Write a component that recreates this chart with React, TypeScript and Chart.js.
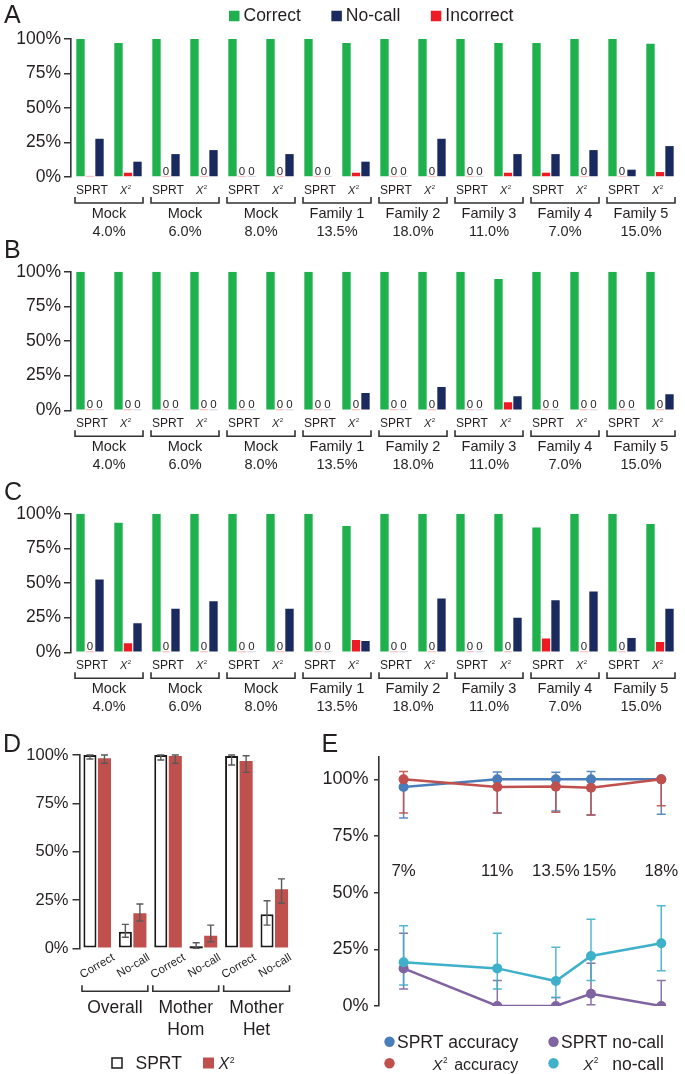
import React, { useEffect, useRef } from 'react';
import { Chart, registerables } from 'chart.js';

Chart.register(...registerables);

const FONT = '"Liberation Sans", Arial, Helvetica, sans-serif';
const TEXT = '#231f20';
const AXIS = '#333333';
Chart.defaults.font.family = FONT;
Chart.defaults.color = TEXT;

// ---------- Panels A–C data ----------
const groupNames = ['Mock', 'Mock', 'Mock', 'Family 1', 'Family 2', 'Family 3', 'Family 4', 'Family 5'];
const groupFractions = ['4.0%', '6.0%', '8.0%', '13.5%', '18.0%', '11.0%', '7.0%', '15.0%'];
const methodLabels = ['SPRT', 'X²'];
const barSeriesNames = ['Correct', 'Incorrect', 'No-call'];
const legendOrder = ['Correct', 'No-call', 'Incorrect'];

const aCorrect = [100, 97.1, 100, 100, 100, 100, 100, 97.1, 100, 100, 100, 97.1, 97.1, 100, 100, 96.6];
const aIncorrect = [0, 3.1, 0, 0, 0, 0, 0, 3.1, 0, 0, 0, 3.1, 3.1, 0, 0, 3.6];
const aNoCall = [27.7, 11.1, 16.6, 19.5, 0, 16.6, 0, 11.1, 0, 27.7, 0, 16.6, 16.6, 19.5, 5.3, 22.4];
const aUnlabelledZeros = [{ series: 1, index: 0 }];

const bCorrect = [100, 100, 100, 100, 100, 100, 100, 100, 100, 100, 100, 94.7, 100, 100, 100, 100];
const bIncorrect = [0, 0, 0, 0, 0, 0, 0, 0, 0, 0, 0, 5.8, 0, 0, 0, 0];
const bNoCall = [0, 0, 0, 0, 0, 0, 0, 12.5, 0, 16.8, 0, 10.1, 0, 0, 0, 11.5];

const cCorrect = [100, 93.5, 100, 100, 100, 100, 100, 91.1, 100, 100, 100, 100, 90.1, 100, 100, 92.5];
const cIncorrect = [0, 6.5, 0, 0, 0, 0, 0, 8.9, 0, 0, 0, 0, 9.9, 0, 0, 7.5];
const cNoCall = [52.6, 20.9, 31.5, 36.8, 0, 31.5, 0, 8.2, 0, 38.9, 0, 25.0, 37.5, 43.8, 10.3, 31.5];

// ---------- Panel D data ----------
const dCategories = ['Correct', 'No-call', 'Correct', 'No-call', 'Correct', 'No-call'];
const dGroups = [['Overall'], ['Mother', 'Hom'], ['Mother', 'Het']];
const dSeriesNames = ['SPRT', 'X²'];
const dSprt = [100, 8.6, 100, 0, 99.5, 17.6];
const dSprtLow = [97.9, 5.7, 97.4, 0, 94.8, 12.0];
const dSprtHigh = [100, 12.4, 100, 2.9, 100, 24.6];
const dChi = [98.3, 18.1, 99.5, 6.5, 96.9, 30.5];
const dChiLow = [95.7, 14.1, 95.7, 3.4, 91.0, 23.3];
const dChiHigh = [100, 22.9, 100, 12.0, 99.6, 35.9];

// ---------- Panel E data ----------
const eConcentrations = [7, 11, 13.5, 15, 18];
const eSprtAcc = [96.6, 100, 100, 100, 100];
const eSprtAccLow = [82.9, 85.2, 86.0, 84.3, 84.6];
const eSprtAccHigh = [100, 103.3, 103.1, 103.5, 100];
const eChiAcc = [100, 96.6, 96.8, 96.3, 100];
const eChiAccLow = [85.2, 85.2, 85.5, 84.3, 88.4];
const eChiAccHigh = [103.5, 100, 100, 100, 100];
const eSprtNc = [16.6, 0, 0, 5.4, 0];
const eSprtNcLow = [7.5, 0, 0, 0.6, 0];
const eSprtNcHigh = [32.1, 11.3, 3.8, 18.9, 11.2];
const eChiNc = [19.3, 16.6, 11.0, 22.1, 27.7];
const eChiNcLow = [9.3, 7.5, 3.8, 11.3, 15.6];
const eChiNcHigh = [35.4, 32.1, 25.9, 38.3, 44.2];

// ---------- Colours ----------
const GREEN = '#1fb14d';
const RED = '#ed1c24';
const NAVY = '#1b2a5e';
const D_RED = '#c0504d';
const E_BLUE = '#4a7ebb';
const E_RED = '#c0504d';
const E_PURPLE = '#8064a2';
const E_CYAN = '#3fb0c9';

const barColors: Record<string, string> = { Correct: GREEN, Incorrect: RED, 'No-call': NAVY };

// draws a label; "X²" is drawn as italic X with a superscript 2
function drawMethod(ctx: CanvasRenderingContext2D, label: string, x: number, baseline: number, size: number, align: 'left' | 'center' | 'right') {
  ctx.save();
  ctx.textBaseline = 'alphabetic';
  ctx.fillStyle = TEXT;
  if (label.includes('²')) {
    const base = label.replace('²', '');
    ctx.font = `italic ${size}px ${FONT}`;
    const wx = ctx.measureText(base).width;
    const sup = size * 0.55;
    ctx.font = `${sup}px ${FONT}`;
    const w2 = ctx.measureText('2').width;
    const gap = size * 0.04;
    const total = wx + gap + w2;
    const x0 = align === 'center' ? x - total / 2 : align === 'right' ? x - total : x;
    ctx.textAlign = 'left';
    ctx.font = `italic ${size}px ${FONT}`;
    ctx.fillText(base, x0, baseline);
    ctx.font = `${sup}px ${FONT}`;
    ctx.fillText('2', x0 + wx + gap, baseline - size * 0.42);
  } else {
    ctx.font = `${size}px ${FONT}`;
    ctx.textAlign = align;
    ctx.fillText(label, x, baseline);
  }
  ctx.restore();
}

function drawLetter(ctx: CanvasRenderingContext2D, letter: string, x: number, baseline: number) {
  ctx.save();
  ctx.font = `25px ${FONT}`;
  ctx.fillStyle = TEXT;
  ctx.textAlign = 'left';
  ctx.textBaseline = 'alphabetic';
  ctx.fillText(letter, x, baseline);
  ctx.restore();
}

function drawBracket(ctx: CanvasRenderingContext2D, xl: number, xr: number, yTop: number, yLine: number) {
  ctx.save();
  ctx.strokeStyle = AXIS;
  ctx.lineWidth = 1.6;
  ctx.beginPath();
  ctx.moveTo(xl, yTop);
  ctx.lineTo(xl, yLine);
  ctx.lineTo(xr, yLine);
  ctx.lineTo(xr, yTop);
  ctx.stroke();
  ctx.restore();
}

const percentAxis = (fontSize: number, tickLength: number, padding: number, width: number) => ({
  min: 0,
  max: 100,
  ticks: { stepSize: 25, callback: (v: any) => v + '%', font: { size: fontSize }, color: TEXT, padding },
  grid: { display: true, drawOnChartArea: false, drawTicks: true, tickLength, color: AXIS, lineWidth: 1.5 },
  border: { display: true, color: AXIS, width: 1.6 },
  afterFit: (s: any) => {
    s.width = width;
  },
});

type Make = () => any;

function ChartCanvas({ left, top, width, height, make }: { left: number; top: number; width: number; height: number; make: Make }) {
  const ref = useRef<HTMLCanvasElement | null>(null);
  useEffect(() => {
    if (!ref.current) return;
    const chart = new Chart(ref.current, make());
    return () => chart.destroy();
  }, []);
  return <canvas ref={ref} width={width} height={height} style={{ position: 'absolute', left, top, width, height }} />;
}

// ---------- Bar panels A–C ----------
function makeBarPanel(
  letter: string,
  letterBaseline: number,
  correct: number[],
  incorrect: number[],
  nocall: number[],
  unlabelled: { series: number; index: number }[],
  padTop: number,
  padBottom: number,
  showLegend: boolean
): Make {
  return () => {
    const labels: string[] = [];
    groupNames.forEach((g, gi) => methodLabels.forEach((m) => labels.push(`${g} ${groupFractions[gi]} ${m}`)));
    const values = [correct, incorrect, nocall];
    const plugin = {
      id: 'panelDecor' + letter,
      afterDraw(chart: any) {
        const ctx: CanvasRenderingContext2D = chart.ctx;
        const { bottom } = chart.chartArea;
        const xs = chart.scales.x;
        drawLetter(ctx, letter, 4, letterBaseline);
        // zero markers and "0" labels
        [1, 2].forEach((di) => {
          const meta = chart.getDatasetMeta(di);
          const vals = chart.data.datasets[di].data as number[];
          meta.data.forEach((bar: any, i: number) => {
            if (vals[i] !== 0) return;
            const w = bar.width;
            ctx.save();
            ctx.fillStyle = di === 1 ? 'rgba(237,28,36,0.28)' : 'rgba(27,42,94,0.18)';
            ctx.fillRect(bar.x - w / 2, bottom - 1.2, w, 1.2);
            ctx.restore();
            if (unlabelled.some((u) => u.series === di && u.index === i)) return;
            ctx.save();
            ctx.fillStyle = TEXT;
            ctx.font = `11.5px ${FONT}`;
            ctx.textAlign = 'center';
            ctx.textBaseline = 'alphabetic';
            ctx.fillText('0', bar.x, bottom - 2);
            ctx.restore();
          });
        });
        // method labels
        for (let i = 0; i < labels.length; i++) {
          const x = xs.getPixelForValue(i);
          const isSprt = i % 2 === 0;
          drawMethod(ctx, methodLabels[i % 2], x + (isSprt ? 2 : -2.5), bottom + 16.5, isSprt ? 12 : 11, 'center');
        }
        // brackets and group labels
        const half = (xs.getPixelForValue(1) - xs.getPixelForValue(0)) / 2;
        groupNames.forEach((g, gi) => {
          const xl = xs.getPixelForValue(gi * 2) - half + 4;
          const xr = xs.getPixelForValue(gi * 2 + 1) + half - 4;
          drawBracket(ctx, xl, xr, bottom + 20, bottom + 26);
          const cx = (xl + xr) / 2;
          ctx.save();
          ctx.fillStyle = TEXT;
          ctx.font = `14.5px ${FONT}`;
          ctx.textAlign = 'center';
          ctx.textBaseline = 'middle';
          ctx.fillText(g, cx, bottom + 37);
          ctx.fillText(groupFractions[gi], cx, bottom + 55);
          ctx.restore();
        });
        // legend
        if (showLegend) {
          ctx.save();
          let x = 229;
          const cy = 16;
          ctx.font = `17.5px ${FONT}`;
          ctx.textBaseline = 'middle';
          ctx.textAlign = 'left';
          legendOrder.forEach((name) => {
            ctx.fillStyle = barColors[name];
            ctx.fillRect(x, cy - 5.25, 10.5, 10.5);
            ctx.fillStyle = TEXT;
            ctx.fillText(name, x + 14.5, cy + 0.5);
            x += 14.5 + ctx.measureText(name).width + 30.5;
          });
          ctx.restore();
        }
      },
    };
    return {
      type: 'bar',
      data: {
        labels,
        datasets: barSeriesNames.map((name, si) => ({
          label: name,
          data: values[si],
          backgroundColor: barColors[name],
          categoryPercentage: 0.75,
          barPercentage: 0.88,
        })),
      },
      options: {
        responsive: false,
        animation: false,
        layout: { padding: { left: 0, right: 6, top: padTop, bottom: padBottom } },
        plugins: { legend: { display: false }, tooltip: { enabled: false } },
        scales: {
          x: { display: false },
          y: percentAxis(17.5, 7, 3, 71),
        },
      },
      plugins: [plugin],
    };
  };
}

// ---------- Panel D ----------
const makePanelD: Make = () => {
  const lows = [dSprtLow, dChiLow];
  const highs = [dSprtHigh, dChiHigh];
  const plugin = {
    id: 'panelD',
    afterDatasetsDraw(chart: any) {
      const ctx: CanvasRenderingContext2D = chart.ctx;
      const ys = chart.scales.y;
      const { bottom } = chart.chartArea;
      [0, 1].forEach((di) => {
        const meta = chart.getDatasetMeta(di);
        const vals = chart.data.datasets[di].data as number[];
        meta.data.forEach((bar: any, i: number) => {
          ctx.save();
          if (di === 0 && vals[i] === 0) {
            ctx.strokeStyle = '#1a1a1a';
            ctx.lineWidth = 2;
            ctx.beginPath();
            ctx.moveTo(bar.x - bar.width / 2, bottom - 1);
            ctx.lineTo(bar.x + bar.width / 2, bottom - 1);
            ctx.stroke();
          }
          const y1 = ys.getPixelForValue(lows[di][i]);
          const y2 = ys.getPixelForValue(highs[di][i]);
          ctx.strokeStyle = '#5a5a5a';
          ctx.lineWidth = 1.4;
          ctx.beginPath();
          ctx.moveTo(bar.x, y1);
          ctx.lineTo(bar.x, y2);
          ctx.moveTo(bar.x - 3.5, y1);
          ctx.lineTo(bar.x + 3.5, y1);
          ctx.moveTo(bar.x - 3.5, y2);
          ctx.lineTo(bar.x + 3.5, y2);
          ctx.stroke();
          ctx.restore();
        });
      });
    },
    afterDraw(chart: any) {
      const ctx: CanvasRenderingContext2D = chart.ctx;
      const xs = chart.scales.x;
      const { bottom } = chart.chartArea;
      drawLetter(ctx, 'D', 3, 21.7);
      // rotated category labels
      dCategories.forEach((c, i) => {
        const x = xs.getPixelForValue(i);
        ctx.save();
        ctx.translate(x + 13.5, bottom + 3.5);
        ctx.rotate(-Math.PI / 6);
        ctx.font = `11.5px ${FONT}`;
        ctx.fillStyle = TEXT;
        ctx.textAlign = 'right';
        ctx.textBaseline = 'top';
        ctx.fillText(c, 0, 0);
        ctx.restore();
      });
      const half = (xs.getPixelForValue(1) - xs.getPixelForValue(0)) / 2;
      dGroups.forEach((lines, gi) => {
        const xl = xs.getPixelForValue(gi * 2) - half + 2.5;
        const xr = xs.getPixelForValue(gi * 2 + 1) + half - 2.5;
        drawBracket(ctx, xl, xr, bottom + 37, bottom + 43);
        ctx.save();
        ctx.font = `17.5px ${FONT}`;
        ctx.fillStyle = TEXT;
        ctx.textAlign = 'center';
        ctx.textBaseline = 'middle';
        lines.forEach((ln, li) => ctx.fillText(ln, (xl + xr) / 2, bottom + 60 + li * 21.7));
        ctx.restore();
      });
      // legend
      const cy = 333;
      ctx.save();
      ctx.fillStyle = '#ffffff';
      ctx.fillRect(112, cy - 5, 10, 10);
      ctx.strokeStyle = '#1a1a1a';
      ctx.lineWidth = 1.5;
      ctx.strokeRect(112, cy - 5, 10, 10);
      ctx.fillStyle = D_RED;
      ctx.fillRect(203, cy - 5.5, 11, 11);
      ctx.restore();
      drawMethod(ctx, dSeriesNames[0], 135.5, cy + 6.3, 17.5, 'left');
      drawMethod(ctx, dSeriesNames[1], 218.5, cy + 6.3, 16, 'left');
    },
  };
  return {
    type: 'bar',
    data: {
      labels: dCategories.map((c, i) => `${dGroups[Math.floor(i / 2)].join(' ')} ${c}`),
      datasets: [
        {
          label: dSeriesNames[0],
          data: dSprt,
          backgroundColor: '#ffffff',
          borderColor: '#1a1a1a',
          borderWidth: 2,
          borderSkipped: false,
          categoryPercentage: 0.82,
          barPercentage: 0.9,
        },
        {
          label: dSeriesNames[1],
          data: dChi,
          backgroundColor: D_RED,
          categoryPercentage: 0.82,
          barPercentage: 0.9,
        },
      ],
    },
    options: {
      responsive: false,
      animation: false,
      layout: { padding: { left: 0, right: 8, top: 25, bottom: 125.7 } },
      plugins: { legend: { display: false }, tooltip: { enabled: false } },
      scales: {
        x: { display: false },
        y: percentAxis(16.5, 7, 4, 79.5),
      },
    },
    plugins: [plugin],
  };
};

// ---------- Panel E ----------
const makePanelE: Make = () => {
  const series = [
    { method: 'X²', metric: 'accuracy', color: E_RED, v: eChiAcc, lo: eChiAccLow, hi: eChiAccHigh },
    { method: 'SPRT', metric: 'accuracy', color: E_BLUE, v: eSprtAcc, lo: eSprtAccLow, hi: eSprtAccHigh },
    { method: 'X²', metric: 'no-call', color: E_CYAN, v: eChiNc, lo: eChiNcLow, hi: eChiNcHigh },
    { method: 'SPRT', metric: 'no-call', color: E_PURPLE, v: eSprtNc, lo: eSprtNcLow, hi: eSprtNcHigh },
  ];
  const plugin = {
    id: 'panelE',
    beforeDatasetsDraw(chart: any) {
      const ctx: CanvasRenderingContext2D = chart.ctx;
      const xs = chart.scales.x;
      const ys = chart.scales.y;
      series
        .slice()
        .reverse()
        .forEach((s) => {
          ctx.save();
          ctx.strokeStyle = s.color;
          ctx.globalAlpha = 0.9;
          ctx.lineWidth = 1.5;
          eConcentrations.forEach((c, i) => {
            const x = xs.getPixelForValue(c);
            const y1 = ys.getPixelForValue(s.lo[i]);
            const y2 = ys.getPixelForValue(s.hi[i]);
            ctx.beginPath();
            ctx.moveTo(x, y1);
            ctx.lineTo(x, y2);
            if (s.lo[i] !== s.v[i]) {
              ctx.moveTo(x - 4.5, y1);
              ctx.lineTo(x + 4.5, y1);
            }
            if (s.hi[i] !== s.v[i]) {
              ctx.moveTo(x - 4.5, y2);
              ctx.lineTo(x + 4.5, y2);
            }
            ctx.stroke();
          });
          ctx.restore();
        });
    },
    afterDraw(chart: any) {
      const ctx: CanvasRenderingContext2D = chart.ctx;
      drawLetter(ctx, 'E', 21.5, 21.7);
      // legend: two rows, two columns
      const cols = [89.5, 253.5];
      const rows = [311.7, 333.3];
      const chiOffsets = [50.5, 37.3];
      const metricSizes = [16, 17.5];
      const order = [
        [series[1], series[3]],
        [series[0], series[2]],
      ];
      ctx.save();
      ctx.font = `17.5px ${FONT}`;
      const rightEdges = order[0].map((s, ci) => cols[ci] + 7.5 + ctx.measureText(`${s.method} ${s.metric}`).width);
      ctx.restore();
      order.forEach((row, ri) => {
        row.forEach((s, ci) => {
          const cx = cols[ci];
          const cy = rows[ri];
          ctx.save();
          ctx.fillStyle = s.color;
          ctx.beginPath();
          ctx.arc(cx, cy, 5.2, 0, Math.PI * 2);
          ctx.fill();
          ctx.restore();
          if (s.method === 'SPRT') {
            drawMethod(ctx, `${s.method} ${s.metric}`, cx + 7.5, cy + 6.3, 17.5, 'left');
          } else {
            drawMethod(ctx, s.method, cx + chiOffsets[ci], cy + 6.3, 15, 'center');
            drawMethod(ctx, s.metric, rightEdges[ci], cy + 6.3, metricSizes[ci], 'right');
          }
        });
      });
    },
  };
  return {
    type: 'line',
    data: {
      datasets: series.map((s) => ({
        label: `${s.method} ${s.metric}`,
        data: eConcentrations.map((c, i) => ({ x: c, y: s.v[i] })),
        borderColor: s.color,
        backgroundColor: s.color,
        pointBackgroundColor: s.color,
        pointBorderWidth: 0,
        pointRadius: 5,
        borderWidth: 2.5,
        tension: 0,
      })),
    },
    options: {
      responsive: false,
      animation: false,
      layout: { padding: { left: 0, right: 0, top: 26.7, bottom: 68 } },
      plugins: { legend: { display: false }, tooltip: { enabled: false } },
      scales: {
        x: {
          type: 'linear',
          min: 5.95,
          max: 18.8,
          position: { y: 64 },
          afterBuildTicks: (s: any) => {
            s.ticks = eConcentrations.map((v) => ({ value: v }));
          },
          ticks: {
            // the 15% label sits slightly right of its point in the original
            callback: (v: any) => (v === 15 ? '\u2002\u2002' : '') + v + '%',
            font: { size: 16.8 },
            color: TEXT,
            autoSkip: false,
            maxRotation: 0,
            minRotation: 0,
            padding: 0,
          },
          grid: { display: false, drawTicks: false },
          border: { display: false },
        },
        y: {
          min: 0,
          max: 110,
          afterBuildTicks: (s: any) => {
            s.ticks = s.ticks.filter((t: any) => t.value % 25 === 0);
          },
          ticks: { stepSize: 25, callback: (v: any) => v + '%', font: { size: 18 }, color: TEXT, padding: 5.5 },
          grid: { display: true, drawOnChartArea: false, drawTicks: true, tickLength: 5, color: AXIS, lineWidth: 1.5 },
          border: { display: true, color: AXIS, width: 1.6 },
          afterFit: (s: any) => {
            s.width = 79;
          },
        },
      },
    },
    plugins: [plugin],
  };
};

export default function App() {
  return (
    <div style={{ position: 'absolute', left: 0, top: 0, width: 685, height: 1074, background: '#ffffff', overflow: 'hidden' }}>
      <ChartCanvas left={0} top={0} width={685} height={240} make={makeBarPanel('A', 23, aCorrect, aIncorrect, aNoCall, aUnlabelledZeros, 39, 63, true)} />
      <ChartCanvas left={0} top={240} width={685} height={240} make={makeBarPanel('B', 18.3, bCorrect, bIncorrect, bNoCall, [], 31.7, 69.7, false)} />
      <ChartCanvas left={0} top={480} width={685} height={240} make={makeBarPanel('C', 19.5, cCorrect, cIncorrect, cNoCall, [], 33.7, 67.7, false)} />
      <ChartCanvas left={0} top={730} width={300} height={344} make={makePanelD} />
      <ChartCanvas left={300} top={730} width={385} height={344} make={makePanelE} />
    </div>
  );
}
